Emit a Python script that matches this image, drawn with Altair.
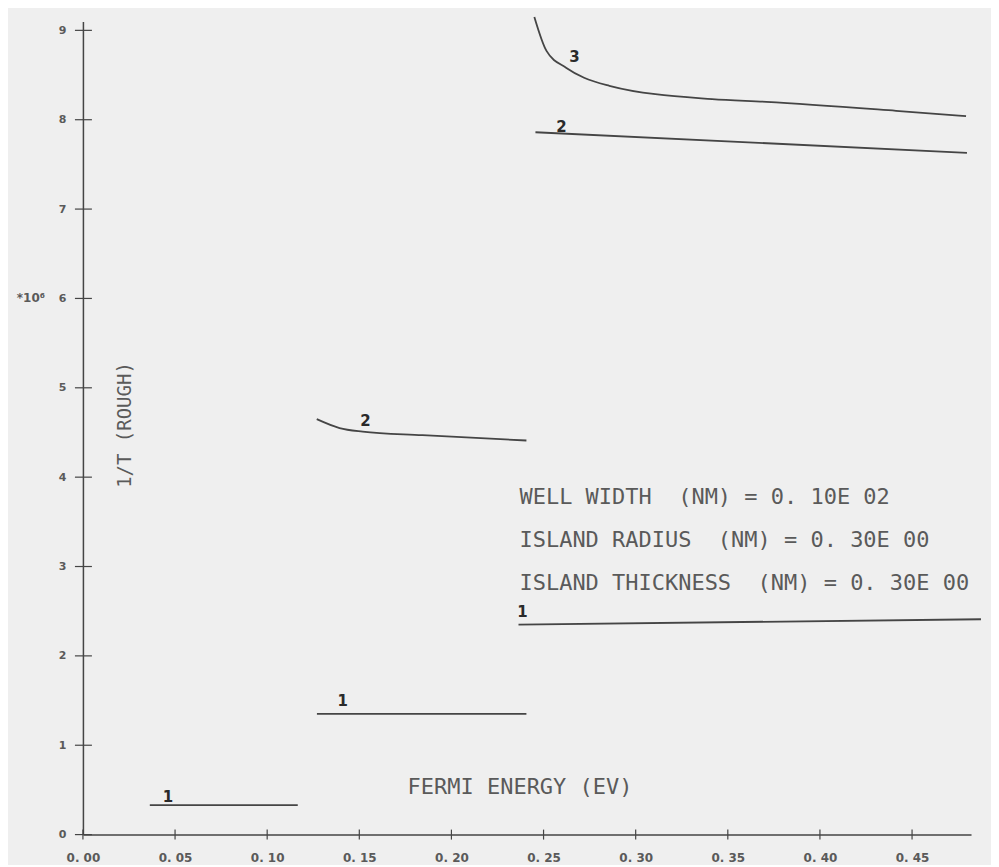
import altair as alt
import pandas as pd

# ---- data ----
seg_names = ["1a", "1b", "1c", "2b", "2c", "3c"]
seg_x = {
    "1a": [0.0363, 0.1166],
    "1b": [0.1270, 0.2407],
    "1c": [0.2364, 0.4874],
    "2b": [0.1269, 0.1393, 0.1518, 0.1843, 0.2407],
    "2c": [0.2456, 0.4798],
    "3c": [0.2450, 0.2516, 0.2624, 0.2720, 0.2857, 0.3415, 0.3709, 0.4413, 0.4793],
}
seg_y = {
    "1a": [0.33, 0.33],
    "1b": [1.35, 1.35],
    "1c": [2.35, 2.41],
    "2b": [4.65, 4.55, 4.51, 4.47, 4.41],
    "2c": [7.86, 7.63],
    "3c": [9.15, 8.77, 8.58, 8.47, 8.38, 8.23, 8.20, 8.10, 8.04],
}
lab_text = ["1", "1", "1", "2", "2", "3"]
lab_x = [0.0461, 0.1410, 0.2385, 0.1534, 0.2597, 0.2668]
lab_y = [0.42, 1.50, 2.49, 4.63, 7.92, 8.70]

x_ticks = [0.00, 0.05, 0.10, 0.15, 0.20, 0.25, 0.30, 0.35, 0.40, 0.45]
y_ticks = [0, 1, 2, 3, 4, 5, 6, 7, 8, 9]

NB = "\u00a0"
info_lines = [
    "WELL WIDTH" + NB * 2 + "(NM) = 0." + NB + "10E" + NB + "02",
    "ISLAND RADIUS" + NB * 2 + "(NM) = 0." + NB + "30E" + NB + "00",
    "ISLAND THICKNESS" + NB * 2 + "(NM) = 0." + NB + "30E" + NB + "00",
]
x_title = "FERMI ENERGY (EV)"
y_title = "1/T (ROUGH)"
y_mult = "*10\u2076"

# ---- build tables ----
rows = []
for s in seg_names:
    for i, (xv, yv) in enumerate(zip(seg_x[s], seg_y[s])):
        rows.append({"seg": s, "i": i, "x": xv, "y": yv})
lines_df = pd.DataFrame(rows)
labs_df = pd.DataFrame({"t": lab_text, "x": lab_x, "y": lab_y})
xt_df = pd.DataFrame({"x": x_ticks})
yt_df = pd.DataFrame({"y": y_ticks})

W, H = 889, 814
XD = [0, 0.482]
YD = [0, 9.1]
INK = "#454545"
TXT = "#5a5a5a"

xs = alt.Scale(domain=XD, nice=False, zero=False)
ys = alt.Scale(domain=YD, nice=False, zero=False)

xaxis = alt.Axis(values=x_ticks, title=None, grid=False, ticks=False, domainColor=INK,
                 domainWidth=1.5, labelColor=TXT, labelFont="DejaVu Sans", labelFontSize=12,
                 labelFontWeight="bold", labelFlush=False, labelOverlap=False,
                 labelPadding=18, labelExpr="replace(format(datum.value, '.2f'), '.', '. ')")
yaxis = alt.Axis(values=y_ticks, title=None, grid=False, ticks=False, domainColor=INK,
                 domainWidth=1.5, labelColor=TXT, labelFont="DejaVu Sans", labelFontSize=11,
                 labelFontWeight="bold", labelFlush=False, labelOverlap=False,
                 labelPadding=17, format="d")

base_lines = alt.Chart(lines_df).mark_line(color=INK, strokeWidth=1.8, interpolate="monotone").encode(
    x=alt.X("x:Q", scale=xs, axis=xaxis),
    y=alt.Y("y:Q", scale=ys, axis=yaxis),
    detail="seg:N",
    order="i:Q",
)

xtick_rules = alt.Chart(xt_df).mark_rule(color=INK, strokeWidth=1.2).encode(
    x=alt.X("x:Q", scale=xs),
    y=alt.value(H - 5),
    y2=alt.value(H + 5),
)
ytick_rules = alt.Chart(yt_df).mark_rule(color=INK, strokeWidth=1.2).encode(
    y=alt.Y("y:Q", scale=ys),
    x=alt.value(-8),
    x2=alt.value(9),
)

labels = alt.Chart(labs_df).mark_text(color="#2a2a2a", font="DejaVu Sans", fontSize=15,
                                      fontWeight="bold").encode(
    x=alt.X("x:Q", scale=xs),
    y=alt.Y("y:Q", scale=ys),
    text="t:N",
)

def free_text(t, px, py, size, angle=None, align="left", font="DejaVu Sans Mono", weight="normal"):
    kw = dict(color=TXT, font=font, fontSize=size, align=align, baseline="middle",
              fontWeight=weight)
    if angle is not None:
        kw["angle"] = angle
    return alt.Chart(pd.DataFrame({"t": [t]})).mark_text(**kw).encode(
        x=alt.value(px), y=alt.value(py), text="t:N")

info_layers = [free_text(t, 437, 476 + 43 * k, 22) for k, t in enumerate(info_lines)]
xtitle = free_text(x_title, 325, 766, 22)
ytitle = free_text(y_title, 42, 404, 19, angle=270, align="center")
ymult = free_text(y_mult, -38, 277, 12, align="right", font="DejaVu Sans", weight="bold")

chart = alt.layer(base_lines, xtick_rules, ytick_rules, labels, *info_layers,
                  xtitle, ytitle, ymult).properties(
    width=W, height=H,
    autosize=alt.AutoSizeParams(type="none"),
    padding={"left": 75, "top": 13, "right": 20, "bottom": 30},
    background="#efefef",
).configure_view(stroke=None)

chart.save("out.html", embed_options={"renderer": "svg", "actions": False})
